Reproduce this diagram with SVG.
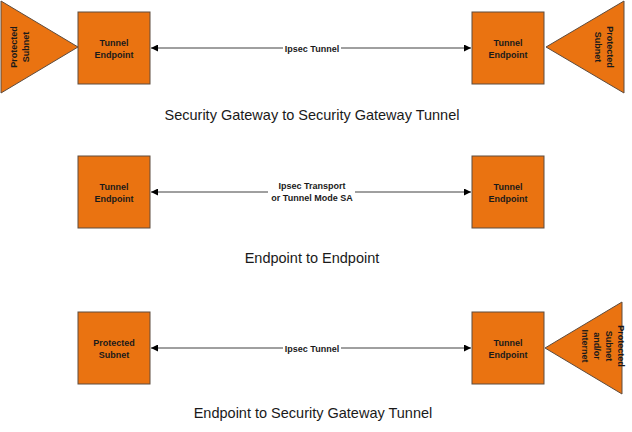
<svg xmlns="http://www.w3.org/2000/svg" width="632" height="432" viewBox="0 0 632 432">
<style>
.box{fill:#EA7311;stroke:#5E4C3E;stroke-width:1}
.nt{font-family:"Liberation Sans",Arial,sans-serif;font-size:9px;font-weight:bold;fill:#1a1a1a;text-anchor:middle}
.lbl{font-family:"Liberation Sans",Arial,sans-serif;font-size:9px;font-weight:bold;fill:#1a1a1a;text-anchor:middle}
.ttl{font-family:"Liberation Sans",Arial,sans-serif;font-size:14.5px;fill:#1a1a1a;text-anchor:middle}
.ln{stroke:#404040;stroke-width:1;fill:none;marker-start:url(#ah);marker-end:url(#ah)}
</style>
<defs>
<marker id="ah" viewBox="0 0 10 10" refX="10" refY="5" markerWidth="7" markerHeight="7" orient="auto-start-reverse" markerUnits="userSpaceOnUse">
<path d="M0,0 L10,5 L0,10 z" fill="#000"/>
</marker>
</defs>
<rect width="632" height="432" fill="#fff"/>

<g id="connectors">
<line class="ln" x1="151" y1="48" x2="471" y2="48"/>
<line class="ln" x1="151" y1="192" x2="471" y2="192"/>
<line class="ln" x1="151" y1="348" x2="471" y2="348"/>
<rect x="283" y="42" width="58" height="12" fill="#fff"/>
<text class="lbl" x="312" y="51.5">Ipsec Tunnel</text>
<rect x="268" y="180" width="87" height="24" fill="#fff"/>
<text class="lbl" x="312" y="189">Ipsec Transport</text>
<text class="lbl" x="312" y="201">or Tunnel Mode SA</text>
<rect x="283" y="342" width="58" height="12" fill="#fff"/>
<text class="lbl" x="312" y="351.5">Ipsec Tunnel</text>
</g>

<g id="subnet-left-1">
<polygon class="box" points="1,1 78,47 1,93"/>
<text class="nt" transform="translate(17,47) rotate(-90)">Protected</text>
<text class="nt" transform="translate(29,47) rotate(-90)">Subnet</text>
</g>
<g id="te-left-1">
<rect class="box" x="78" y="12" width="72" height="72"/>
<text class="nt" x="114" y="46">Tunnel</text>
<text class="nt" x="114" y="58">Endpoint</text>
</g>
<g id="te-right-1">
<rect class="box" x="472" y="12" width="72" height="72"/>
<text class="nt" x="508" y="46">Tunnel</text>
<text class="nt" x="508" y="58">Endpoint</text>
</g>
<g id="subnet-right-1">
<polygon class="box" points="624,1 546,47 624,93"/>
<text class="nt" transform="translate(607,47) rotate(90)">Protected</text>
<text class="nt" transform="translate(595,47) rotate(90)">Subnet</text>
</g>
<text class="ttl" x="312" y="120">Security Gateway to Security Gateway Tunnel</text>

<g id="te-left-2">
<rect class="box" x="78" y="156" width="72" height="72"/>
<text class="nt" x="114" y="190">Tunnel</text>
<text class="nt" x="114" y="202">Endpoint</text>
</g>
<g id="te-right-2">
<rect class="box" x="472" y="156" width="72" height="72"/>
<text class="nt" x="508" y="190">Tunnel</text>
<text class="nt" x="508" y="202">Endpoint</text>
</g>
<text class="ttl" x="312" y="263">Endpoint to Endpoint</text>

<g id="ps-left-3">
<rect class="box" x="78" y="312" width="72" height="72"/>
<text class="nt" x="114" y="346">Protected</text>
<text class="nt" x="114" y="358">Subnet</text>
</g>
<g id="te-right-3">
<rect class="box" x="472" y="312" width="72" height="72"/>
<text class="nt" x="508" y="346">Tunnel</text>
<text class="nt" x="508" y="358">Endpoint</text>
</g>
<g id="subnet-right-3">
<polygon class="box" points="622,302 545,348 622,394"/>
<text class="nt" transform="translate(618,346) rotate(90)">Protected</text>
<text class="nt" transform="translate(606,346) rotate(90)">Subnet</text>
<text class="nt" transform="translate(594,346) rotate(90)">and/or</text>
<text class="nt" transform="translate(582,346) rotate(90)">Internet</text>
</g>
<text class="ttl" x="313" y="418">Endpoint to Security Gateway Tunnel</text>
</svg>
